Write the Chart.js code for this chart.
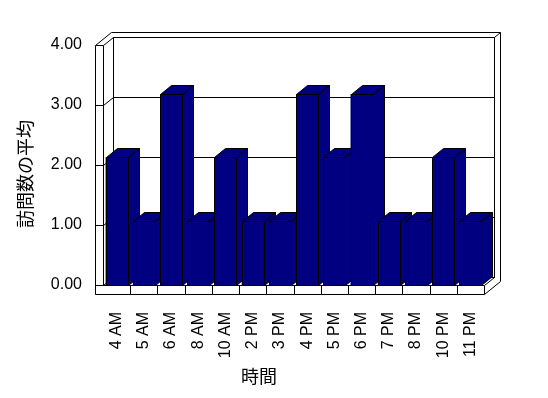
<!DOCTYPE html>
<html>
<head>
<meta charset="utf-8">
<script src="https://cdn.jsdelivr.net/npm/chart.js@4"></script>
<style>
  html, body { margin: 0; background: #fff; }
  #wrap { width: 548px; height: 398px; }
</style>
</head>
<body>
<div id="wrap"><canvas id="chart1"></canvas></div>
<script>
// data
const hours = ['4 AM', '5 AM', '6 AM', '8 AM', '10 AM', '2 PM', '3 PM', '4 PM', '5 PM', '6 PM', '7 PM', '8 PM', '10 PM', '11 PM'];
const avgVisits = [2.13, 1.07, 3.18, 1.07, 2.13, 1.07, 1.07, 3.18, 2.13, 3.18, 1.07, 1.07, 2.13, 1.07];
const yTickValues = [0, 1, 2, 3, 4];
const xTitle = '時間';
const yTitle = '訪問数の平均';

const NAVY = '#000080';

function px(v) { return Math.round(v) + 0.5; }

function path(ctx, pts, close) {
    ctx.beginPath();
    ctx.moveTo(px(pts[0][0]), px(pts[0][1]));
    for (let i = 1; i < pts.length; i++) ctx.lineTo(px(pts[i][0]), px(pts[i][1]));
    if (close) ctx.closePath();
}

// walls, floor and bars drawn with a fake 3D depth
const box3d = {
    id: 'box3d',
    beforeDatasetsDraw(chart) {
        const { ctx, chartArea: a, scales: { x, y } } = chart;
        const L = a.left, R = a.right, T = a.top, B = a.bottom;
        ctx.save();
        ctx.strokeStyle = '#000';
        ctx.lineWidth = 1;
        ctx.fillStyle = '#fff';

        // back wall
        path(ctx, [[L + 10, T - 8], [R + 10, T - 8], [R + 10, B - 8], [L + 10, B - 8]], true);
        ctx.fill(); ctx.stroke();

        // gridlines across left wall and back wall
        yTickValues.forEach(v => {
            const py = y.getPixelForValue(v);
            path(ctx, [[L - 8, py], [L, py], [L + 10, py - 8], [R + 10, py - 8]]);
            ctx.stroke();
        });

        // left wall slab
        path(ctx, [[L - 8, T], [L - 8, B + 9]]); ctx.stroke();
        path(ctx, [[L, T], [L, B]]); ctx.stroke();
        path(ctx, [[L - 8, T], [L + 8, T - 13], [R + 16, T - 13], [R + 16, B - 4]]); ctx.stroke();
        path(ctx, [[R + 10, T - 8], [R + 16, T - 13]]); ctx.stroke();

        // floor slab
        path(ctx, [[L - 8, B], [R, B], [R, B + 9], [L - 8, B + 9]], true);
        ctx.fill(); ctx.stroke();
        const n = hours.length;
        for (let i = 1; i < n; i++) {
            const bx = (x.getPixelForTick(i - 1) + x.getPixelForTick(i)) / 2;
            path(ctx, [[bx, B], [bx, B + 9]]); ctx.stroke();
        }
        path(ctx, [[R, B], [R + 10, B - 8]]); ctx.stroke();
        path(ctx, [[R, B + 9], [R + 16, B - 4]]); ctx.stroke();
        ctx.restore();
    },
    afterDatasetsDraw(chart) {
        const { ctx } = chart;
        const meta = chart.getDatasetMeta(0);
        ctx.save();
        ctx.strokeStyle = '#000';
        ctx.lineWidth = 1;
        ctx.fillStyle = NAVY;
        meta.data.forEach(bar => {
            const p = bar.getProps(['x', 'y', 'base', 'width'], true);
            const x0 = p.x - p.width / 2, x1 = p.x + p.width / 2;
            const top = p.y, base = p.base;
            path(ctx, [[x0, top], [x1, top], [x1, base], [x0, base]], true);
            ctx.fill(); ctx.stroke();
            path(ctx, [[x0, top], [x0 + 11, top - 9], [x1 + 11, top - 9], [x1, top]], true);
            ctx.fill(); ctx.stroke();
            path(ctx, [[x1, top], [x1 + 11, top - 9], [x1 + 11, base - 9], [x1, base]], true);
            ctx.fill(); ctx.stroke();
        });
        ctx.restore();
    },
    afterDraw(chart) {
        const { ctx } = chart;
        ctx.save();
        ctx.fillStyle = '#000';
        ctx.font = "18px 'Noto Sans CJK JP'";
        ctx.textAlign = 'center';
        ctx.textBaseline = 'middle';
        ctx.fillText(xTitle, 259, 376);
        ctx.translate(25, 174);
        ctx.rotate(-Math.PI / 2);
        ctx.fillText(yTitle, 0, 0);
        ctx.restore();
    }
};

const tickFont = "'Liberation Sans', Arial, sans-serif";

new Chart(document.getElementById('chart1'), {
    type: 'bar',
    data: {
        labels: hours,
        datasets: [{
            data: avgVisits,
            backgroundColor: NAVY,
            borderWidth: 0,
            barPercentage: 0.81,
            categoryPercentage: 1.0
        }]
    },
    options: {
        responsive: true,
        maintainAspectRatio: false,
        animation: false,
        layout: { padding: { left: 10, right: 64, top: 45, bottom: 0 } },
        plugins: { legend: { display: false }, tooltip: { enabled: false } },
        scales: {
            x: {
                grid: { display: false, drawTicks: false },
                border: { display: false },
                ticks: {
                    color: '#000',
                    font: { family: tickFont, size: 16 },
                    minRotation: 90,
                    maxRotation: 90,
                    autoSkip: false,
                    padding: 27
                },
                afterFit: s => { s.height = 113; }
            },
            y: {
                min: 0,
                max: 4,
                grid: { display: false, drawTicks: false },
                border: { display: false },
                ticks: {
                    color: '#000',
                    stepSize: 1,
                    font: { family: tickFont, size: 16 },
                    padding: 21,
                    callback: v => v.toFixed(2)
                },
                afterFit: s => { s.width = 93; }
            }
        }
    },
    plugins: [box3d]
});
</script>
</body>
</html>
